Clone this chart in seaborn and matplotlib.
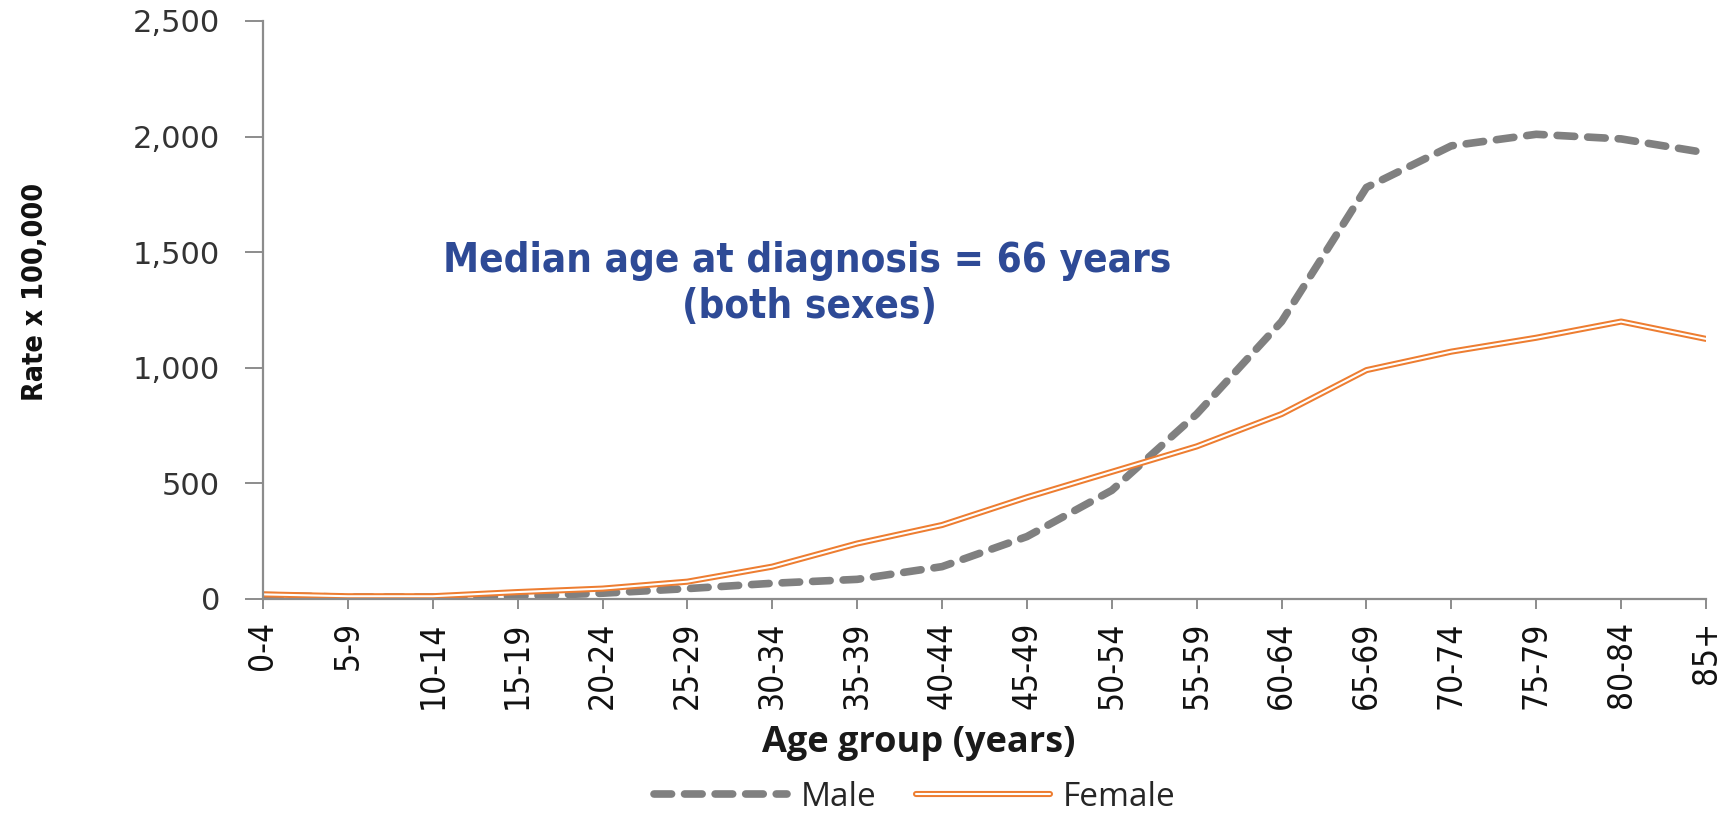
import matplotlib
matplotlib.use("Agg")
import matplotlib.pyplot as plt
import matplotlib.patheffects as pe
from matplotlib.ticker import FuncFormatter
import seaborn as sns
import pandas as pd

age_groups = ["0-4", "5-9", "10-14", "15-19", "20-24", "25-29", "30-34", "35-39",
              "40-44", "45-49", "50-54", "55-59", "60-64", "65-69", "70-74",
              "75-79", "80-84", "85+"]
male = [15, 8, 8, 12, 25, 45, 68, 85, 140, 270, 470, 800, 1200, 1780, 1960, 2010, 1990, 1930]
female = [20, 12, 12, 30, 45, 75, 140, 240, 320, 440, 550, 660, 800, 990, 1070, 1130, 1200, 1125]
y_ticks = [0, 500, 1000, 1500, 2000, 2500]
annot_lines = ["Median age at diagnosis = 66 years", "(both sexes)"]

df_m = pd.DataFrame({"age": age_groups, "rate": male})
df_f = pd.DataFrame({"age": age_groups, "rate": female})

sns.set_theme(style="white")
plt.rcParams["font.family"] = ["DejaVu Sans"]

fig = plt.figure(figsize=(17.29, 8.14), dpi=100)
ax = fig.add_axes([263/1729, 1-599/814, (1706-263)/1729, (599-21)/814])

GRAY = "#808080"
ORANGE = "#ED7D31"
AXC = "#8C8C8C"

sns.lineplot(data=df_m, x="age", y="rate", ax=ax, color=GRAY, lw=5.5,
             label="Male", sort=False)
ax.lines[-1].set_dashes([2.3, 1.7])
ax.lines[-1].set_dash_capstyle("round")
sns.lineplot(data=df_f, x="age", y="rate", ax=ax, color="white", lw=1.5,
             label="Female", sort=False,
             path_effects=[pe.Stroke(linewidth=4.4, foreground=ORANGE), pe.Normal()])

ax.set_xlim(0, len(age_groups) - 1)
ax.set_ylim(0, 2500)
ax.set_yticks(y_ticks)
ax.yaxis.set_major_formatter(FuncFormatter(lambda v, p: f"{int(v):,}"))

for s in ["top", "right"]:
    ax.spines[s].set_visible(False)
for s in ["left", "bottom"]:
    ax.spines[s].set_color(AXC)
    ax.spines[s].set_linewidth(1.6)

ax.tick_params(axis="y", direction="out", length=13, width=1.4, color=AXC, left=True,
               labelsize=22, labelcolor="#333333", pad=18)
ax.set_xticks(range(len(age_groups)))
ax.set_xticklabels(age_groups, rotation=90, fontsize=24, color="#111111",
                   fontstretch="condensed")
ax.tick_params(axis="x", direction="out", length=7, width=1.4, color=AXC, bottom=True,
               pad=9)

ax.set_xlabel("")
ax.set_ylabel("")
fig.text(35/1729, 1-292/814, "Rate x 100,000", rotation=90, ha="center",
         va="center", fontsize=20.5, fontweight="bold", color="#111111",
         fontstretch="condensed")
fig.text(919/1729, 1-743/814, "Age group (years)", ha="center", va="center",
         fontsize=26, fontweight="bold", color="#1A1A1A",
         family=["Open Sans", "DejaVu Sans"])

ax.text(807/1729, 1-272/814, annot_lines[0], transform=fig.transFigure,
        ha="center", va="baseline", fontsize=29, fontweight="bold",
        color="#2E4A96", fontstretch="condensed")
ax.text(810/1729, 1-318/814, annot_lines[1], transform=fig.transFigure,
        ha="center", va="baseline", fontsize=29, fontweight="bold",
        color="#2E4A96", fontstretch="condensed")

handles, labels = ax.get_legend_handles_labels()
ax.get_legend().remove()
leg = fig.legend(handles, labels, loc="center", bbox_to_anchor=(915/1729, 1-797/814),
                 ncol=2, frameon=False, handlelength=4.0, handletextpad=0.4,
                 columnspacing=1.2,
                 prop={"family": ["Open Sans", "DejaVu Sans"], "size": 24})

fig.savefig("out.png", dpi=100)
